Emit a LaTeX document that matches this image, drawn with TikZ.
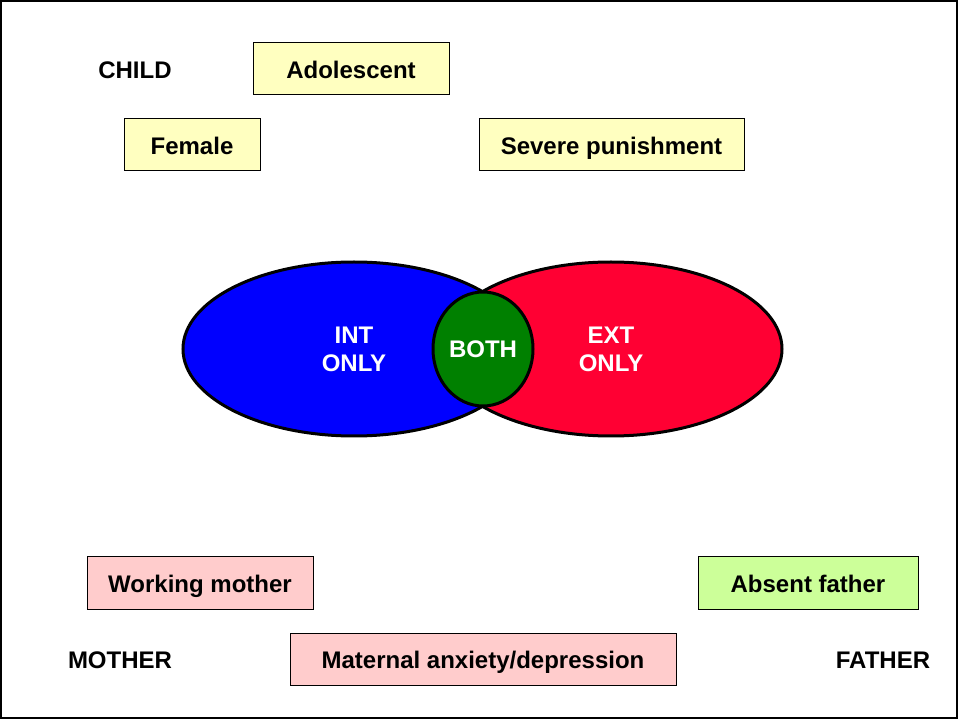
\documentclass[tikz,border=0pt]{standalone}
\usepackage{fontspec}
\setmainfont{Liberation Sans}
\usetikzlibrary{shapes.geometric}

\definecolor{boxyellow}{HTML}{FFFFC0}
\definecolor{boxpink}{HTML}{FFCCCC}
\definecolor{boxgreen}{HTML}{CCFF99}
\definecolor{intblue}{HTML}{0000FF}
\definecolor{extred}{HTML}{FF0033}
\definecolor{bothgreen}{HTML}{008000}

\begin{document}
\begin{tikzpicture}[x=0.75pt, y=-0.75pt,
    every node/.style={font=\fontsize{18}{21}\selectfont\bfseries},
    factor/.style={draw, line width=0.75pt, minimum height=39pt, inner sep=0pt,
        text height=14pt, text depth=0pt},
    blob/.style={ellipse, draw, line width=2.25pt, text=white, align=center, inner sep=0pt}]
    \useasboundingbox (0, 0) rectangle (958, 720);
    \draw[line width=1.5pt] (1, 1) rectangle (956.5, 718);

    % child factors
    \node (child) at (135, 70) {CHILD};
    \node[factor, fill=boxyellow, minimum width=147pt] (adol) at (351, 69) {Adolescent};
    \node[factor, fill=boxyellow, minimum width=102pt] (female) at (192, 145) {Female};
    \node[factor, fill=boxyellow, minimum width=198.75pt] (punish) at (611.5, 145) {Severe punishment};

    % outcome groups
    \node[blob, fill=intblue, minimum width=256.5pt, minimum height=130.5pt] (int) at (354, 349) {INT\\ONLY};
    \node[blob, fill=extred, minimum width=256.5pt, minimum height=130.5pt] (ext) at (611, 349) {EXT\\ONLY};
    \node[blob, fill=bothgreen, minimum width=75pt, minimum height=85.5pt] (both) at (483, 349) {BOTH};

    % parent factors
    \node[factor, fill=boxpink, minimum width=169.5pt] (working) at (200, 583) {Working mother};
    \node[factor, fill=boxgreen, minimum width=165pt] (absent) at (808, 583) {Absent father};
    \node[factor, fill=boxpink, minimum width=289.5pt] (maternal) at (483, 659) {Maternal anxiety/depression};
    \node (mother) at (120, 660) {MOTHER};
    \node (father) at (883, 660) {FATHER};
\end{tikzpicture}
\end{document}
